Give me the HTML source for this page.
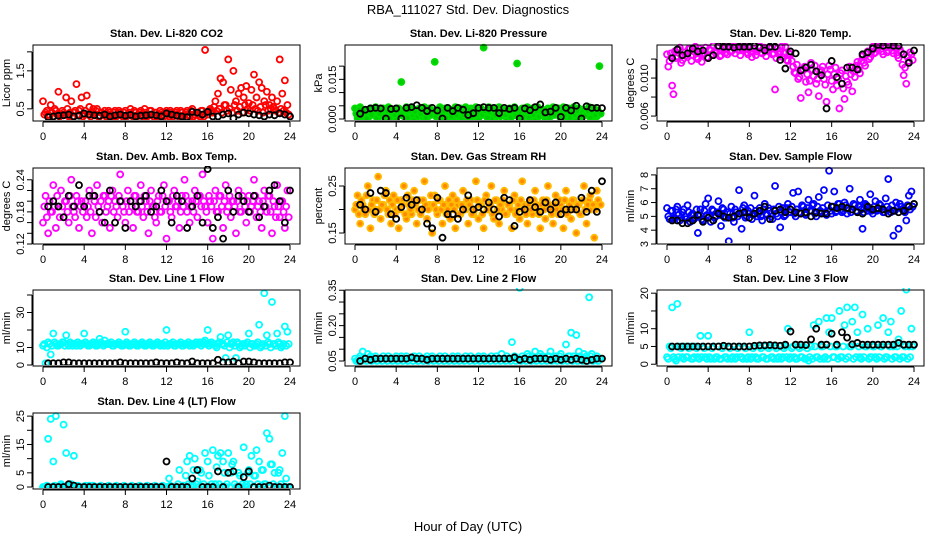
<!DOCTYPE html>
<html><head><meta charset="utf-8">
<style>
html,body{margin:0;padding:0;background:#fff;}
svg{display:block;font-family:"Liberation Sans",Arial,sans-serif;}
</style></head>
<body>
<svg id="chart" width="936" height="540" viewBox="0 0 936 540" xmlns="http://www.w3.org/2000/svg">
<text x="468" y="14" font-size="13" text-anchor="middle">RBA_111027  Std. Dev. Diagnostics</text>
<text x="468" y="531" font-size="13" text-anchor="middle">Hour of Day (UTC)</text>
</svg>
<script>
const xTicks = [0,4,8,12,16,20,24];

// Panel 1 CO2
const co2Color = [0.7,0.4,0.35,0.6,0.3,0.45,0.95,0.35,0.4,0.8,0.3,0.7,0.4,1.15,0.45,0.8,
0.35,0.85,0.55,0.4,0.35,0.5,0.3,0.4,0.45,0.35,0.4,0.3,0.45,0.35,0.4,0.3,
0.45,0.35,0.5,0.3,0.4,0.35,0.45,0.3,0.4,0.35,0.45,0.3,0.4,0.35,0.4,0.3,
0.45,0.3,0.4,0.35,0.45,0.3,0.4,0.35,0.45,0.3,0.5,0.35,0.4,0.3,0.45,2.05,
0.35,0.5,0.4,0.7,0.9,1.3,1.2,0.6,1.8,1.0,1.5,0.7,0.9,1.05,0.8,1.1,
0.65,1.0,1.4,0.8,1.2,1.05,0.7,0.95,0.6,0.8,0.5,0.7,1.8,0.9,1.25,0.6];
const co2Color2 = [0.35,0.45,0.3,0.4,0.5,0.35,0.3,0.45,0.35,0.5,0.4,0.3,0.45,0.35,0.5,0.3,
0.45,0.35,0.3,0.5,0.45,0.3,0.4,0.35,0.3,0.45,0.35,0.4,0.3,0.45,0.35,0.4,
0.3,0.4,0.35,0.45,0.3,0.4,0.35,0.5,0.3,0.45,0.35,0.4,0.3,0.45,0.35,0.4,
0.35,0.45,0.3,0.4,0.35,0.45,0.3,0.4,0.35,0.45,0.3,0.4,0.35,0.45,0.3,0.4,
0.45,0.4,0.55,0.45,0.5,0.4,0.6,0.45,0.5,0.4,0.6,0.45,0.55,0.4,0.6,0.5,
0.45,0.6,0.5,0.45,0.55,0.4,0.6,0.45,0.5,0.55,0.45,0.4,0.5,0.45,0.4,0.35];
const co2Black = [0.28,0.3,0.32,0.33,0.35,0.3,0.32,0.38,0.35,0.33,0.32,0.35,0.3,0.33,0.35,0.32,0.34,0.3,0.32,0.33,0.35,0.33,0.3,0.38,0.35,0.32,0.3,0.28,0.42,0.4,0.35,0.42,0.3,0.3,0.35,0.38,0.25,0.35,0.4,0.38,0.35,0.33,0.3,0.35,0.33,0.38,0.35,0.3];
// Panel 2 pressure
const presColor = [0.004,0.0003,0.0045,0.001,0.0035,0.0002,0.004,0.002,0.0045,0.0003,0.003,0.004,0.001,0.0045,0.002,0.0035,
0.0003,0.004,0.014,0.001,0.0045,0.002,0.004,0.0003,0.0035,0.004,0.001,0.0045,0.0003,0.004,0.002,0.0216,
0.0003,0.0045,0.001,0.004,0.002,0.0035,0.0003,0.0045,0.001,0.004,0.0025,0.0045,0.0003,0.004,0.001,0.0045,
0.0003,0.004,0.027,0.002,0.0045,0.0003,0.004,0.001,0.0045,0.002,0.0035,0.0003,0.004,0.001,0.0045,0.021,
0.0003,0.004,0.002,0.0045,0.001,0.004,0.0003,0.0045,0.002,0.0035,0.0003,0.004,0.001,0.0045,0.002,0.004,
0.0003,0.0045,0.001,0.004,0.002,0.0045,0.0003,0.004,0.001,0.0035,0.002,0.0045,0.0003,0.004,0.001,0.020];
const presColor2 = [0.002,0.0035,0.001,0.003,0.0002,0.0025,0.0015,0.0035,0.0005,0.002,0.0035,0.001,0.003,0.0002,0.0025,0.0015,
0.003,0.0015,0.0025,0.0035,0.0005,0.003,0.0015,0.0025,0.001,0.002,0.0035,0.0005,0.0025,0.0015,0.003,0.001,
0.0025,0.0015,0.003,0.0005,0.0035,0.001,0.0025,0.0015,0.003,0.0005,0.0015,0.0025,0.0035,0.001,0.003,0.0015,
0.0025,0.0015,0.003,0.0005,0.0025,0.0035,0.0015,0.003,0.001,0.0025,0.0015,0.003,0.0005,0.0025,0.0015,0.003,
0.002,0.001,0.003,0.0005,0.0025,0.0015,0.003,0.001,0.0025,0.0015,0.0035,0.0005,0.0025,0.0015,0.003,0.001,
0.0025,0.0015,0.003,0.0005,0.0025,0.0015,0.003,0.001,0.0025,0.0015,0.003,0.0005,0.0025,0.0015,0.003,0.002];
const presBlack = [0.002,0.0035,0.004,0.0042,0.004,0.0002,0.0038,0.004,0.0002,0.0042,0.0045,0.0052,0.0042,0.003,0.0042,0.0032,0.0002,0.0042,0.003,0.0042,0.0035,0.0015,0.0022,0.0042,0.0045,0.0042,0.0042,0.0022,0.0042,0.0038,0.0042,0.0002,0.004,0.0033,0.0045,0.0055,0.0025,0.0028,0.0042,0.0008,0.0042,0.0032,0.005,0.0002,0.0048,0.0042,0.0042,0.0041];
// Panel 3 temp
const tempColor = [0.0125,0.0118,0.0092,0.0128,0.0123,0.0132,0.0119,0.0127,0.0122,0.0131,0.0124,0.0133,0.012,0.0128,0.0125,0.0132,
0.0121,0.0129,0.0134,0.0126,0.0133,0.0124,0.0131,0.0127,0.0134,0.0128,0.0132,0.0133,0.0129,0.0134,0.0131,0.0127,
0.0133,0.0122,0.0131,0.0128,0.0134,0.0126,0.0132,0.0129,0.0133,0.0125,0.0088,0.0131,0.0128,0.0122,0.0133,0.0118,
0.0125,0.0112,0.0105,0.0099,0.0079,0.0109,0.0096,0.0085,0.0116,0.0102,0.0094,0.0081,0.0108,0.0099,0.0075,0.0113,
0.0097,0.0104,0.0092,0.0068,0.0108,0.0078,0.0096,0.0112,0.0086,0.0101,0.0117,0.0105,0.0123,0.0113,0.0128,0.0122,
0.0133,0.0127,0.0131,0.0134,0.0125,0.0132,0.0129,0.0134,0.0126,0.0131,0.0121,0.0127,0.0103,0.0094,0.0118,0.0125];
const tempColor2 = [0.0112,0.0126,0.0083,0.0121,0.013,0.0116,0.0127,0.0124,0.0131,0.0118,0.0128,0.0122,0.0131,0.0117,0.0126,0.0122,
0.013,0.0125,0.0128,0.0132,0.0123,0.0129,0.0134,0.0125,0.0128,0.0133,0.0126,0.013,0.0124,0.0129,0.0133,0.0125,
0.0128,0.0131,0.0124,0.0133,0.0127,0.0131,0.0123,0.0128,0.0131,0.0126,0.0121,0.0125,0.0133,0.0126,0.0119,0.0126,
0.0118,0.0106,0.0114,0.0101,0.0108,0.0112,0.0104,0.0097,0.0109,0.0113,0.0099,0.0106,0.0112,0.0093,0.0104,0.0109,
0.0088,0.0111,0.0099,0.0105,0.0089,0.0102,0.0093,0.0104,0.0107,0.0113,0.0109,0.0118,0.0116,0.0125,0.012,0.0128,
0.0126,0.0131,0.0134,0.0128,0.0133,0.0127,0.0134,0.0129,0.0133,0.0124,0.013,0.0114,0.0111,0.0122,0.0127,0.0119];
const tempBlack = [0.0121,0.013,0.0124,0.0126,0.0131,0.0128,0.0129,0.0121,0.0124,0.0134,0.0133,0.0133,0.0132,0.0133,0.0133,0.0133,0.0134,0.0132,0.0129,0.0133,0.0133,0.0119,0.011,0.0128,0.0126,0.0108,0.0111,0.0114,0.0107,0.0103,0.0068,0.0118,0.0101,0.0094,0.0111,0.0111,0.0109,0.0125,0.0127,0.0131,0.0135,0.0134,0.0135,0.0134,0.0134,0.0125,0.0116,0.0129];
// Panel 4 amb box
const ambColor = [0.16,0.21,0.14,0.18,0.23,0.15,0.19,0.22,0.17,0.2,0.16,0.24,0.18,0.21,0.15,0.2,
0.19,0.17,0.22,0.14,0.2,0.23,0.18,0.16,0.21,0.19,0.15,0.22,0.2,0.17,0.25,0.19,
0.16,0.22,0.2,0.15,0.21,0.18,0.23,0.17,0.2,0.14,0.22,0.19,0.16,0.21,0.18,0.23,
0.13,0.2,0.17,0.22,0.19,0.15,0.21,0.24,0.18,0.16,0.2,0.22,0.17,0.21,0.25,0.19,
0.16,0.2,0.13,0.22,0.18,0.21,0.15,0.23,0.19,0.17,0.2,0.14,0.22,0.18,0.2,0.16,
0.21,0.19,0.24,0.17,0.2,0.15,0.22,0.18,0.21,0.14,0.19,0.23,0.17,0.2,0.15,0.22];
const ambColor2 = [0.19,0.17,0.2,0.18,0.19,0.21,0.17,0.19,0.2,0.18,0.21,0.19,0.17,0.2,0.19,0.18,
0.2,0.19,0.18,0.21,0.17,0.19,0.2,0.21,0.18,0.2,0.21,0.18,0.19,0.21,0.2,0.18,
0.2,0.18,0.19,0.21,0.18,0.2,0.19,0.21,0.18,0.2,0.19,0.17,0.2,0.18,0.21,0.19,
0.2,0.18,0.21,0.19,0.2,0.18,0.19,0.21,0.2,0.19,0.18,0.2,0.21,0.19,0.2,0.18,
0.21,0.19,0.2,0.18,0.21,0.19,0.2,0.18,0.21,0.2,0.19,0.2,0.18,0.21,0.19,0.2,
0.18,0.2,0.21,0.19,0.18,0.2,0.19,0.21,0.18,0.2,0.17,0.19,0.2,0.18,0.19,0.17];
const ambBlack = [0.19,0.2,0.19,0.17,0.21,0.19,0.23,0.19,0.21,0.21,0.18,0.16,0.22,0.16,0.2,0.15,0.2,0.19,0.2,0.21,0.18,0.19,0.22,0.2,0.16,0.21,0.2,0.15,0.19,0.21,0.16,0.26,0.15,0.17,0.13,0.22,0.18,0.21,0.2,0.18,0.21,0.17,0.19,0.22,0.23,0.2,0.16,0.22];
// Panel 5 RH
const rhColor = [0.2,0.23,0.17,0.21,0.19,0.25,0.16,0.22,0.2,0.27,0.18,0.21,0.24,0.19,0.17,0.23,
0.2,0.16,0.22,0.25,0.18,0.21,0.19,0.24,0.17,0.22,0.2,0.26,0.18,0.21,0.15,0.23,
0.19,0.22,0.17,0.25,0.2,0.18,0.23,0.16,0.21,0.19,0.24,0.2,0.17,0.22,0.19,0.26,
0.18,0.21,0.16,0.23,0.2,0.25,0.18,0.22,0.17,0.2,0.24,0.19,0.21,0.16,0.23,0.2,
0.18,0.26,0.21,0.17,0.22,0.19,0.24,0.2,0.16,0.22,0.18,0.25,0.2,0.17,0.23,0.19,
0.21,0.16,0.24,0.2,0.18,0.22,0.15,0.21,0.19,0.25,0.17,0.22,0.2,0.14,0.24,0.21];
const rhColor2 = [0.21,0.19,0.22,0.2,0.23,0.2,0.21,0.19,0.22,0.2,0.21,0.23,0.2,0.22,0.21,0.19,
0.22,0.2,0.21,0.19,0.23,0.2,0.22,0.21,0.2,0.19,0.22,0.21,0.2,0.23,0.21,0.2,
0.22,0.2,0.21,0.19,0.22,0.21,0.2,0.22,0.19,0.21,0.2,0.22,0.21,0.19,0.2,0.22,
0.21,0.19,0.22,0.2,0.21,0.19,0.22,0.2,0.21,0.22,0.19,0.21,0.2,0.22,0.19,0.21,
0.22,0.2,0.19,0.21,0.2,0.22,0.21,0.19,0.21,0.2,0.22,0.21,0.19,0.21,0.2,0.22,
0.2,0.22,0.19,0.21,0.22,0.2,0.21,0.19,0.22,0.2,0.21,0.23,0.21,0.2,0.22,0.21];
const rhBlack = [0.21,0.2,0.235,0.195,0.24,0.235,0.19,0.18,0.205,0.225,0.21,0.22,0.2,0.17,0.16,0.225,0.14,0.19,0.19,0.18,0.2,0.23,0.2,0.205,0.2,0.215,0.2,0.185,0.225,0.22,0.165,0.195,0.2,0.22,0.205,0.195,0.215,0.2,0.215,0.19,0.2,0.2,0.2,0.225,0.195,0.24,0.195,0.26];
// Panel 6 sample flow
const flowColor = [5.6,4.8,5.4,4.9,5.7,4.7,5.3,5.0,5.8,4.6,5.2,4.9,3.8,5.5,4.7,5.9,
6.3,4.6,5.4,5.0,6.1,4.3,5.5,4.9,3.2,5.7,4.6,5.3,6.9,4.1,5.8,5.0,
5.2,4.8,6.5,5.0,5.6,4.7,5.9,5.1,5.4,4.8,7.2,5.0,4.2,5.6,5.1,5.9,
5.3,6.7,5.0,6.8,5.2,5.7,5.1,6.2,5.4,5.9,5.0,6.4,5.3,6.9,5.1,8.3,
5.2,6.8,5.4,5.9,5.3,6.0,5.2,7.0,5.5,5.8,5.3,6.2,4.1,5.9,5.4,6.6,
5.2,6.1,5.5,5.8,5.3,6.3,7.7,5.3,3.6,6.0,4.1,5.7,5.4,4.7,6.5,6.8];
const flowColor2 = [5.0,5.4,4.8,5.5,5.1,4.9,5.5,4.8,5.3,5.1,4.8,5.5,5.0,4.8,5.4,5.1,
5.0,5.5,4.9,5.3,5.1,5.6,4.9,5.3,5.2,4.9,5.5,5.0,5.2,5.6,4.9,5.4,
5.6,5.1,5.4,5.2,5.0,5.5,5.2,5.6,5.0,5.5,5.2,5.7,5.3,5.0,5.6,5.3,
5.7,5.2,5.5,5.3,5.8,5.2,5.6,5.4,5.8,5.2,5.7,5.4,5.6,5.3,5.8,5.4,
5.7,5.3,5.9,5.5,5.4,5.8,5.6,5.3,5.9,5.4,5.7,5.5,5.3,5.8,5.6,5.4,
5.7,5.4,5.9,5.5,5.3,5.7,5.5,5.8,5.4,5.6,5.9,5.5,5.3,5.8,5.5,5.7];
const flowBlack = [4.7,4.7,4.5,4.5,4.7,5.1,4.6,4.9,4.7,5.2,5.0,4.9,5.0,5.2,5.3,4.9,5.2,5.4,5.7,4.8,5.4,5.5,5.3,5.5,5.3,5.2,5.3,5.0,5.3,5.2,5.2,5.7,5.6,5.7,5.6,5.5,5.3,5.2,5.7,5.5,5.6,5.5,5.2,5.4,5.3,5.4,5.7,5.9];
// Panel 7 line 1
const l1Color = [11,1,13,6,18,12,11,12,13,17,11,12,12,11,12,12,
18,12,11,12,12,11,15,12,14,12,12,11,12,12,12,11,
19,12,11,12,12,11,12,12,11,12,12,11,12,12,12,11,
20,12,12,11,12,12,11,12,12,11,12,12,12,13,12,14,
20,12,12,11,12,16,12,4,17,12,13,4,12,11,12,12,
18,12,11,12,23,11,41,17,12,36,12,18,12,11,22,19];
const l1Color2 = [12,10,12,11,13,11,12,13,11,12,13,11,12,13,11,12,
13,11,12,13,11,12,13,11,12,12,13,11,12,13,11,12,
13,11,12,13,11,12,13,11,12,13,11,12,13,11,12,13,
11,12,13,11,12,13,11,12,13,12,11,13,12,11,13,12,
11,13,12,10,13,12,11,13,10,12,11,13,10,12,11,13,
10,12,11,13,10,12,11,13,10,12,11,13,10,12,11,12];
const l1Black = [1,1,1,1.5,1.5,1,1,1,1,1,1,1,1,1,1.5,1,1,1,1,1,1,1.5,1,1,1,1.5,1,1,2,1,1,1,1,3,1.5,1.5,2,1,2,2,1.5,1,1,1,1,1,1.5,1.5];
// Panel 8 line 2
const l2Color = [0.06,0.05,0.07,0.09,0.06,0.08,0.07,0.06,0.07,0.06,0.06,0.07,0.06,0.07,0.06,0.06,
0.07,0.06,0.07,0.06,0.07,0.06,0.06,0.07,0.06,0.07,0.06,0.06,0.07,0.06,0.07,0.06,
0.06,0.07,0.06,0.07,0.06,0.06,0.07,0.06,0.07,0.06,0.06,0.07,0.06,0.07,0.06,0.06,
0.07,0.06,0.07,0.06,0.06,0.07,0.06,0.07,0.06,0.08,0.06,0.07,0.06,0.13,0.07,0.06,
0.36,0.07,0.06,0.08,0.06,0.07,0.09,0.06,0.08,0.07,0.06,0.07,0.09,0.06,0.07,0.06,
0.08,0.06,0.12,0.07,0.17,0.07,0.16,0.09,0.06,0.08,0.07,0.32,0.08,0.06,0.07,0.06];
const l2Color2 = [0.05,0.06,0.05,0.06,0.05,0.06,0.05,0.06,0.05,0.06,0.05,0.06,0.05,0.06,0.05,0.06,
0.05,0.06,0.05,0.06,0.05,0.06,0.05,0.06,0.05,0.06,0.05,0.06,0.05,0.06,0.05,0.06,
0.05,0.06,0.05,0.06,0.05,0.06,0.05,0.06,0.05,0.06,0.05,0.06,0.05,0.06,0.05,0.06,
0.05,0.06,0.05,0.06,0.05,0.06,0.05,0.06,0.05,0.06,0.05,0.06,0.05,0.06,0.05,0.06,
0.05,0.06,0.05,0.07,0.05,0.06,0.05,0.07,0.05,0.06,0.05,0.07,0.05,0.06,0.05,0.07,
0.05,0.06,0.05,0.07,0.05,0.06,0.05,0.07,0.05,0.06,0.05,0.07,0.05,0.06,0.05,0.06];
const l2Black = [0.05,0.06,0.055,0.06,0.06,0.06,0.06,0.06,0.06,0.06,0.065,0.06,0.06,0.055,0.06,0.06,0.06,0.06,0.06,0.06,0.06,0.06,0.06,0.06,0.06,0.06,0.06,0.06,0.06,0.06,0.065,0.055,0.06,0.055,0.06,0.06,0.06,0.055,0.06,0.055,0.06,0.055,0.06,0.055,0.05,0.055,0.06,0.06];
// Panel 9 line 3
const l3Color = [2,5,16,1.5,17,5,2,5,2,5,1.5,5,2,8,5,2,
8,1.5,5,2,5,1.5,5,2,5,1.5,5,2,5,2,5,1.5,
9,2,5,1.5,5,2,5,1.5,5,2,5,1.5,5,2,5,10,
2,5,1.5,5,2,5,1.5,1,5,11,2,12,5,1.5,13,9,
13,2,5,15,2,11,16,5,12,16,9,2,14,5,10,2,
5,2,11,5,13,2,9,12,5,2,7,15,2,21,5,10];
const l3Color2 = [1.5,4.5,2,1,2,4.5,1.5,2,4.5,1.5,2,4.5,1.5,2,4.5,1.5,
2,4.5,1.5,2,1.5,4.5,2,1.5,4.5,2,1.5,4.5,2,1.5,4.5,2,
1.5,4.5,2,1.5,4.5,2,1.5,4.5,2,1.5,4.5,2,1.5,4.5,2,1.5,
4.5,2,1.5,4.5,2,1.5,4.5,2,1.5,5,2,1.5,5,2,1.5,5,
2,5,1.5,2,5,1.5,2,5,1.5,2,5,1.5,2,5,1.5,2,
5,1.5,2,5,1.5,2,5,1.5,2,5,1.5,2,5,1.5,2,5];
const l3Black = [5,5,5,5,5,5,5,5,5,5,5.2,5,5,5,5,5,5.2,5.3,5.3,5.4,5.3,5.2,5.5,9.2,5.5,5.5,5.4,7,10,5.5,5.5,8.6,5.5,9,7.5,5.6,6,5.5,5.5,5.5,5.5,5.5,5.5,5.5,6,5.5,5.5,5.5];
// Panel 10 line 4
const l4Color = [0,0,17,24,9,25,0,1,22,12,0,1,11,0,0,0,
0,0,0.5,0,0,0,0,0,0,0,0,0,0,0,0,0,
0,0,0,0,0,0,0,0,0,0,0,0,0,0,0,0,
0,3,0,0,0,6,0,0,9,11,1,10,2,6,0,12,
9,0,13,1,11,12,9,0,12,5,9,0,5,0,14,1,
6,11,4,13,9,6,1,19,17,8,5,0,6,12,25,0];
const l4Color2 = [0,0.5,0,0,0.5,0,0,0.5,0,0,0.5,0,0,0.5,0,0,
0.5,0,0,0.5,0,0,0.5,0,0,0.5,0,0,0.5,0,0,0.5,
0,0,0.5,0,0,0.5,0,0,0.5,0,0,0.5,0,0,0.5,0,
0,0.5,0,0,1,0,0.5,4,1,0,6,1,0,5,1,0,
4,1,0,7,1,0,5,1,0,8,1,0,4,1,0,5,
1,0,4,1,0,6,1,0,8,1,0,5,1,0,3,0];
const l4Black = [0,0,0,0,1,0.5,0,0,0,0,0,0,0,0,0,0,0,0,0,0,0,0,0,9,0,0,0,0,3,6,0,0,0,5.5,0,5,5.5,0,3.5,5.5,0,0,0,0.5,0,0,0,0];

const panels = [
 {title:'Stan. Dev. Li-820 CO2', ylab:'Licor ppm', col:0,row:0, lo:0.18,hi:2.18, ticks:[0.5,1.0,1.5,2.0], labels:['0.5','','1.5',''], color:'#ff0000', c:co2Color, c2:co2Color2, k:co2Black, name:'co2'},
 {title:'Stan. Dev. Li-820 Pressure', ylab:'kPa', col:1,row:0, lo:-0.00076,hi:0.028, ticks:[0,0.005,0.01,0.015,0.02], labels:['0.000','','','0.015',''], color:'#00dd00', c:presColor, c2:presColor2, k:presBlack, name:'pressure', fill:'#00cc00'},
 {title:'Stan. Dev. Li-820 Temp.', ylab:'degrees C', col:2,row:0, lo:0.00548,hi:0.01348, ticks:[0.006,0.008,0.010,0.012], labels:['0.006','','0.010',''], color:'#ff00ff', c:tempColor, c2:tempColor2, k:tempBlack, name:'temp'},
 {title:'Stan. Dev. Amb. Box Temp.', ylab:'degrees C', col:0,row:1, lo:0.12,hi:0.262, ticks:[0.12,0.14,0.16,0.18,0.20,0.22,0.24], labels:['0.12','','','0.18','','','0.24'], color:'#ff00ff', c:ambColor, c2:ambColor2, k:ambBlack, name:'amb-box'},
 {title:'Stan. Dev. Gas Stream RH', ylab:'percent', col:1,row:1, lo:0.1266,hi:0.2883, ticks:[0.15,0.20,0.25], labels:['0.15','','0.25'], color:'#ffbb00', c:rhColor, c2:rhColor2, k:rhBlack, name:'rh', fill:'#ff8800'},
 {title:'Stan. Dev. Sample Flow', ylab:'ml/min', col:2,row:1, lo:3,hi:8.5, ticks:[3,4,5,6,7,8], labels:['3','4','5','6','7','8'], color:'#0000ff', c:flowColor, c2:flowColor2, k:flowBlack, name:'sample-flow'},
 {title:'Stan. Dev. Line 1 Flow', ylab:'ml/min', col:0,row:2, lo:-0.57,hi:42.86, ticks:[0,10,20,30,40], labels:['0','10','','30',''], color:'#00ffff', c:l1Color, c2:l1Color2, k:l1Black, name:'line1'},
 {title:'Stan. Dev. Line 2 Flow', ylab:'ml/min', col:1,row:2, lo:0.0288,hi:0.351, ticks:[0.05,0.10,0.15,0.20,0.25,0.30,0.35], labels:['0.05','','','0.20','','','0.35'], color:'#00ffff', c:l2Color, c2:l2Color2, k:l2Black, name:'line2'},
 {title:'Stan. Dev. Line 3 Flow', ylab:'ml/min', col:2,row:2, lo:-0.5,hi:20.9, ticks:[0,5,10,15,20], labels:['0','5','10','','20'], color:'#00ffff', c:l3Color, c2:l3Color2, k:l3Black, name:'line3'},
 {title:'Stan. Dev. Line 4 (LT) Flow', ylab:'ml/min', col:0,row:3, lo:-0.7,hi:26.1, ticks:[0,5,10,15,20,25], labels:['0','5','','15','','25'], color:'#00ffff', c:l4Color, c2:l4Color2, k:l4Black, name:'line4'}
];
const tops=[45,168,290,413];
const NS='http://www.w3.org/2000/svg';
const svg=document.getElementById('chart');
function mk(tag,attrs,parent){const e=document.createElementNS(NS,tag);for(const a in attrs)e.setAttribute(a,attrs[a]);(parent||svg).appendChild(e);return e;}

panels.forEach(p=>{
  const x0=43+p.col*312, x24=x0+247, L=x0-10, R=x24+10, T=tops[p.row], B=T+76;
  const xs=t=>x0+(t/24)*(x24-x0);
  const ys=v=>B-(v-p.lo)/(p.hi-p.lo)*(B-T);
  const g=mk('g',{});
  
  
  const t=mk('text',{x:(L+R)/2,y:T-8,'font-size':11,'font-weight':'bold','text-anchor':'middle'},g);
  t.textContent=p.title;
  
  
  const clip='clip-'+p.name;
  const cp=mk('clipPath',{id:clip},g); mk('rect',{x:L+1,y:T-2,width:R-L-1,height:B-T+1},cp);
  const pts=mk('g',{'clip-path':'url(#'+clip+')'},g);
  const fill=p.fill||'none';
  p.c.forEach((v,i)=>{
    const c=mk('circle',{cx:xs(i*0.25),cy:ys(v),r:3,fill:fill,stroke:p.color,'stroke-width':1.8},pts);
    
    
  });
  p.c2.forEach((v,i)=>{
    const c=mk('circle',{cx:xs(i*0.25+0.125),cy:ys(v),r:3,fill:fill,stroke:p.color,'stroke-width':1.8},pts);
    
    
  });
  p.k.forEach((v,i)=>{
    const c=mk('circle',{cx:xs(0.5+i*0.5),cy:ys(v),r:3,fill:'none',stroke:'#000','stroke-width':1.8},pts);
    
    
  });
  const box=mk('rect',{x:L,y:T,width:R-L,height:B-T,fill:'none',stroke:'#000','stroke-width':1},g);
  
  
  const xa=mk('g',{},g);
  
  
  mk('line',{x1:xs(0),x2:xs(24),y1:B+1,y2:B+1,stroke:'#000'},xa);
  xTicks.forEach(v=>{mk('line',{x1:xs(v),x2:xs(v),y1:B+1,y2:B+6,stroke:'#000'},xa);
    const tl=mk('text',{x:xs(v),y:B+19,'font-size':11,'text-anchor':'middle'},xa);tl.textContent=v;});
  const ya=mk('g',{},g);
  
  
  const yt=p.ticks.map(ys);
  mk('line',{x1:L-1,x2:L-1,y1:Math.min(...yt),y2:Math.max(...yt),stroke:'#000'},ya);
  p.ticks.forEach((v,i)=>{const y=ys(v);mk('line',{x1:L-6,x2:L-1,y1:y,y2:y,stroke:'#000'},ya);
    if(p.labels[i]){const tl=mk('text',{x:L-9,y:y,'font-size':11,'text-anchor':'middle',transform:'rotate(-90 '+(L-9)+' '+y+')'},ya);tl.textContent=p.labels[i];}});
  const yl=mk('text',{x:L-23,y:(T+B)/2,'font-size':11,'text-anchor':'middle',transform:'rotate(-90 '+(L-23)+' '+((T+B)/2)+')'},g);
  yl.textContent=p.ylab;
  
  
});
</script>
</body></html>
